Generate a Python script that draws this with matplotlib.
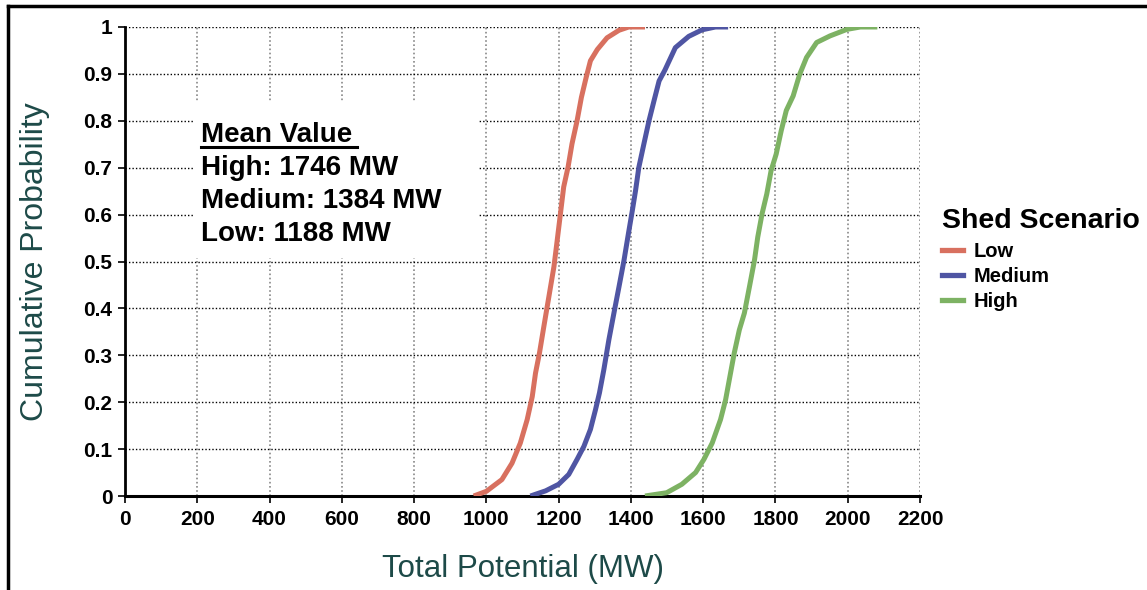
import matplotlib
matplotlib.use("Agg")
import matplotlib.pyplot as plt
from matplotlib.lines import Line2D
from matplotlib.patches import Rectangle

plt.rcParams['font.family'] = ['Liberation Sans', 'DejaVu Sans']

# Cumulative distribution curves (MW, probability)
low_mw = [965, 1000, 1043, 1071, 1094, 1113, 1127, 1136, 1147, 1159, 1173, 1187, 1196,
          1205, 1214, 1226, 1237, 1251, 1263, 1276, 1288, 1307, 1334, 1367, 1394, 1439]
low_p = [0.0, 0.01, 0.035, 0.07, 0.113, 0.163, 0.212, 0.262, 0.305, 0.361, 0.425, 0.489, 0.545,
         0.602, 0.659, 0.701, 0.751, 0.800, 0.850, 0.892, 0.928, 0.952, 0.977, 0.993, 1.0, 1.0]

med_mw = [1122, 1164, 1200, 1228, 1251, 1270, 1288, 1302, 1313, 1325, 1339, 1353, 1367, 1381,
          1393, 1404, 1413, 1422, 1436, 1450, 1464, 1478, 1494, 1523, 1560, 1597, 1634, 1669]
med_p = [0.0, 0.011, 0.025, 0.046, 0.078, 0.106, 0.142, 0.184, 0.22, 0.269, 0.333, 0.39, 0.446, 0.503,
         0.559, 0.609, 0.652, 0.701, 0.751, 0.800, 0.843, 0.885, 0.908, 0.956, 0.980, 0.994, 1.0, 1.0]

high_mw = [1439, 1499, 1541, 1579, 1602, 1625, 1648, 1662, 1674, 1686, 1700, 1714, 1728, 1742,
           1751, 1763, 1776, 1788, 1802, 1816, 1830, 1849, 1867, 1886, 1914, 1951, 1998, 2035, 2082]
high_p = [0.0, 0.007, 0.025, 0.05, 0.078, 0.113, 0.163, 0.205, 0.255, 0.305, 0.354, 0.39, 0.446, 0.503,
          0.552, 0.602, 0.644, 0.694, 0.729, 0.779, 0.822, 0.853, 0.899, 0.935, 0.967, 0.981, 0.995, 1.0, 1.0]

scenarios = ['Low', 'Medium', 'High']
colores = ['#d8705f', '#4f55a3', '#7db263']
medias = {'High': 1746, 'Medium': 1384, 'Low': 1188}

x_ticks = list(range(0, 2201, 200))
y_ticks = [0, 0.1, 0.2, 0.3, 0.4, 0.5, 0.6, 0.7, 0.8, 0.9, 1]
y_labels = ['0', '0.1', '0.2', '0.3', '0.4', '0.5', '0.6', '0.7', '0.8', '0.9', '1']

fig = plt.figure(figsize=(11.47, 5.90), dpi=100)
ax = fig.add_axes([125 / 1147, 1 - 496 / 590, 795 / 1147, 469 / 590])

series = [(low_mw, low_p), (med_mw, med_p), (high_mw, high_p)]
for (xs, ys), nombre, color in zip(series, scenarios, colores):
    ax.plot(xs, ys, color=color, lw=3.6, solid_capstyle='butt', label=nombre, zorder=3)

ax.set_xlim(0, 2200)
ax.set_ylim(0, 1)
ax.set_xticks(x_ticks)
ax.set_yticks(y_ticks)
ax.set_yticklabels(y_labels)
ax.tick_params(axis='both', labelsize=15, width=1.2, length=5, direction='out')
ax.tick_params(axis='x', pad=5)
ax.tick_params(axis='y', pad=4)
for lbl in ax.get_xticklabels() + ax.get_yticklabels():
    lbl.set_fontweight('bold')

ax.grid(axis='y', color='black', linestyle=(0, (1, 1.5)), lw=1)
ax.grid(axis='x', color='#888888', linestyle=(0, (1, 1.5)), lw=1.2)
ax.set_axisbelow(True)
for lado in ['top', 'right']:
    ax.spines[lado].set_visible(False)
ax.spines['left'].set_linewidth(2)
ax.spines['bottom'].set_linewidth(2.2)

ax.set_xlabel('Total Potential (MW)', fontsize=22.5, color='#1d4a48', labelpad=18)
ax.set_ylabel('Cumulative Probability', fontsize=23, color='#1d4a48', labelpad=24)

# caja blanca con los valores medios
ax.add_patch(Rectangle((68 / 795, 238 / 469), 285 / 795, 156 / 469, transform=ax.transAxes,
                       facecolor='white', edgecolor='none', zorder=2))
fig.text(201 / 1147, 1 - 142 / 590, 'Mean Value', fontsize=20, fontweight='bold', va='baseline')
fig.add_artist(Line2D([201 / 1147, 357 / 1147], [1 - 147 / 590, 1 - 147 / 590], color='black', lw=2.2))
lineas = [f'High: {medias["High"]} MW', f'Medium: {medias["Medium"]} MW', f'Low: {medias["Low"]} MW']
for i, txt in enumerate(lineas):
    fig.text(201 / 1147, 1 - (175 + 33 * i) / 590, txt, fontsize=20, fontweight='bold', va='baseline')

handles = [Line2D([], [], color=c, lw=3.8) for c in colores]
leg = fig.legend(handles, scenarios, loc='upper left', bbox_to_anchor=(942 / 1147, 1 - 208 / 590),
                 frameon=False, title='Shed Scenario', alignment='left', handlelength=1.05,
                 handletextpad=0.5, labelspacing=0.3, borderpad=0, borderaxespad=0,
                 prop={'size': 14.5, 'weight': 'bold'},
                 title_fontproperties={'size': 20.5, 'weight': 'bold'})
leg._legend_box.sep = 6

# marco de la imagen (arriba e izquierda)
fig.add_artist(Line2D([8 / 1147, 1], [1 - 6 / 590, 1 - 6 / 590], color='black', lw=2.5))
fig.add_artist(Line2D([8 / 1147, 8 / 1147], [0, 1 - 6 / 590], color='black', lw=2.5))

fig.savefig('out.png', dpi=100)
